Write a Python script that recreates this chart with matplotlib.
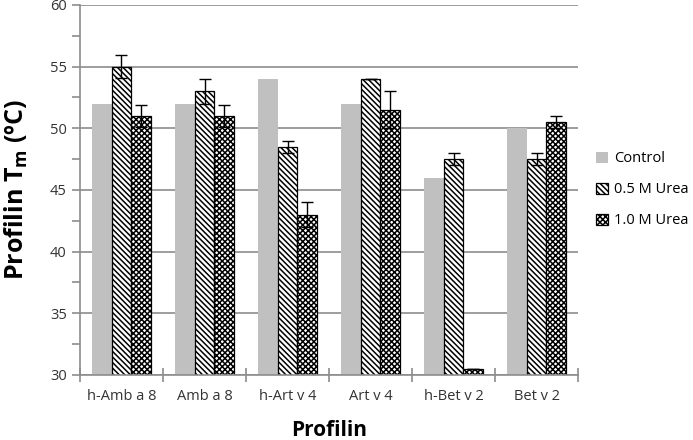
import numpy as np
import matplotlib.pyplot as plt

proteins = ['h-Amb a 8', 'Amb a 8', 'h-Art v 4', 'Art v 4', 'h-Bet v 2', 'Bet v 2']
control = [52, 52, 54, 52, 46, 50]
urea05 = [55, 53, 48.5, 54, 47.5, 47.5]
urea05_err = [0.9, 1.0, 0.5, 0, 0.5, 0.5]
urea10 = [51, 51, 43, 51.5, 30.5, 50.5]
urea10_err = [0.9, 0.9, 1.0, 1.5, 0, 0.5]

plt.rcParams['font.family'] = ['Open Sans', 'DejaVu Sans']
plt.rcParams['hatch.linewidth'] = 1.1

fig = plt.figure(figsize=(6.93, 4.4), dpi=100)
ax = fig.add_axes([0.1154, 0.148, 0.719, 0.841])

x = np.arange(len(proteins))
w = 0.235
ax.bar(x - w, control, w, color='#c0c0c0', label='Control', zorder=2)
ax.bar(x, urea05, w, color='white', edgecolor='black', hatch='\\\\\\\\\\\\', linewidth=0.9,
       label='0.5 M Urea', zorder=2)
ax.bar(x + w, urea10, w, color='white', edgecolor='black', hatch='xxxxxx', linewidth=0.9,
       label='1.0 M Urea', zorder=2)
ax.errorbar(x, urea05, yerr=urea05_err, fmt='none', ecolor='black', elinewidth=1,
            capsize=4, capthick=1, zorder=3)
ax.errorbar(x + w, urea10, yerr=urea10_err, fmt='none', ecolor='black', elinewidth=1,
            capsize=4, capthick=1, zorder=3)

ax.set_ylim(30, 60)
ax.set_xlim(-0.5, len(proteins) - 0.5)
ax.set_yticks(np.arange(30, 61, 5))
ax.set_yticks(np.arange(30, 61, 2.5), minor=True)
ax.yaxis.grid(True, color='#8c8c8c', linewidth=1.2, zorder=0)
ax.set_axisbelow(True)

ax.set_xticks(x)
ax.set_xticklabels(proteins)
ax.set_xticks(np.arange(-0.5, len(proteins), 1), minor=True)
ax.tick_params(axis='x', which='major', length=0, labelsize=10.5, pad=10, colors='#333333')
ax.tick_params(axis='x', which='minor', length=10, direction='inout', color='#8c8c8c', width=1.2)
ax.tick_params(axis='y', which='both', length=6, direction='out', color='#8c8c8c', width=1.2,
               labelsize=10.5, labelcolor='#333333')

for s in ['top', 'right']:
    ax.spines[s].set_visible(False)
for s in ['left', 'bottom']:
    ax.spines[s].set_color('#8c8c8c')
    ax.spines[s].set_linewidth(1.2)

ax.set_ylabel('Profilin T$_\\mathregular{m}$ (ºC)', fontsize=18, fontweight='bold', labelpad=14)
ax.set_xlabel('Profilin', fontsize=15, fontweight='bold', labelpad=12)

ax.legend(loc='center left', bbox_to_anchor=(1.01, 0.5), frameon=False, fontsize=10.5,
          handlelength=0.8, handleheight=0.8, handletextpad=0.4, labelspacing=1.1)

fig.savefig('out.png', dpi=100)
